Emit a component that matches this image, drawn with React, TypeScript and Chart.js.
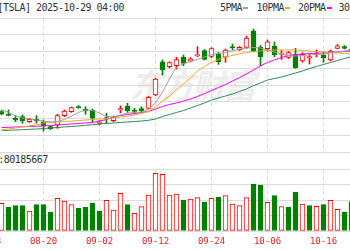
import React, { useEffect, useRef } from 'react';
import { Chart, registerables } from 'chart.js';

Chart.register(...registerables);

// ---- data ----
const dates = ['08-12','08-13','08-14','08-15','08-18','08-19','08-20','08-21','08-22','08-25','08-26','08-27','08-28','08-29','09-02','09-03','09-04','09-05','09-08','09-09','09-10','09-11','09-12','09-15','09-16','09-17','09-18','09-19','09-22','09-23','09-24','09-25','09-26','09-29','09-30','10-01','10-02','10-03','10-06','10-07','10-08','10-09','10-10','10-13','10-14','10-15','10-16','10-17','10-20','10-21','10-22'];

const openP = [343.0,338.6,332.6,335.1,327.2,331.0,327.2,319.4,322.0,336.7,343.0,351.2,346.8,345.7,324.4,333.8,328.8,345.7,352.0,345.7,347.7,348.3,369.3,421.7,413.9,415.4,429.1,422.5,431.2,439.4,429.9,434.3,428.7,445.4,440.6,444.1,470.1,444.9,442.2,446.1,433.1,428.3,433.4,422.8,427.1,433.1,432.3,424.4,442.8,445.7,441.7];
const highP = [344.9,345.7,336.7,337.8,332.3,336.7,329.9,320.5,338.9,345.7,350.4,352.7,350.9,347.2,329.1,340.5,336.2,352.0,356.2,348.3,350.9,366.9,395.6,424.4,421.7,428.7,432.3,428.3,445.4,440.9,443.8,436.5,441.7,449.6,445.7,462.2,473.0,447.2,455.9,452.8,439.4,437.8,442.8,435.9,433.4,440.2,437.5,440.2,448.8,447.2,444.9];
const lowP = [337.8,336.2,327.2,324.7,326.0,324.7,312.6,314.9,316.8,335.1,342.0,348.3,338.9,327.2,322.0,324.7,327.2,341.4,341.7,339.4,341.4,347.2,368.2,400.8,411.8,410.2,415.4,421.3,429.6,424.4,428.0,417.6,420.8,440.2,439.4,442.8,437.0,415.4,438.6,429.6,425.2,426.8,411.3,420.8,418.1,429.1,420.8,422.8,442.0,441.7,435.4];
const closeP = [339.4,337.3,329.9,328.3,331.0,328.8,320.9,316.2,336.7,344.1,349.3,348.8,344.1,332.6,326.8,332.0,334.2,348.0,344.6,343.6,344.6,365.7,394.5,408.7,420.5,425.2,418.9,426.3,433.1,425.5,442.5,421.7,440.2,443.3,444.4,459.1,438.5,429.1,453.2,432.7,434.6,436.2,412.3,433.4,429.6,434.6,428.0,438.6,446.9,442.8,437.8];

const ma5 = [345.7,342.5,336.2,333.1,331.5,329.9,328.3,326.8,327.5,330.7,336.2,341.7,345.7,344.9,340.9,335.4,334.6,337.8,340.9,341.7,342.5,347.2,356.7,374.0,394.5,413.4,418.9,422.0,425.2,429.1,433.1,434.6,436.2,438.6,441.7,443.3,444.1,443.3,440.2,437.0,433.9,431.5,430.7,431.5,432.3,433.1,433.9,435.4,437.0,438.6,440.2];
const ma10 = [314.2,315.7,317.3,318.9,320.5,322.0,325.2,326.0,326.8,327.5,328.3,329.1,329.9,330.7,331.5,332.3,333.1,334.6,336.2,337.8,340.1,343.3,350.4,359.8,367.7,377.2,386.6,396.1,407.1,414.2,420.5,425.2,429.1,431.5,433.9,436.2,437.8,438.6,439.4,440.2,440.2,440.2,440.2,439.4,438.6,437.8,437.0,436.2,435.4,434.6,433.9];
const ma20 = [318.1,318.4,318.9,319.2,319.7,320.1,320.5,321.2,322.0,322.8,323.6,324.4,325.2,326.0,328.3,330.7,334.6,337.0,338.6,340.1,341.7,343.3,347.2,351.2,354.3,356.7,359.8,363.0,366.9,371.6,376.4,381.1,385.8,391.3,396.8,402.4,408.7,415.0,420.5,424.4,428.3,431.5,433.1,433.9,434.6,435.0,435.4,436.2,437.0,437.8,438.6];
const ma30 = [313.4,313.7,314.2,314.6,315.3,315.7,316.5,317.3,318.1,318.9,319.7,320.5,321.6,322.5,323.6,324.4,325.2,326.0,326.8,327.5,328.3,329.4,331.5,335.4,338.6,341.7,344.9,348.8,352.7,356.7,361.4,364.6,367.7,370.9,374.8,378.7,384.2,388.2,392.9,395.3,397.6,400.8,403.9,407.1,411.0,414.2,417.3,420.5,423.6,426.8,429.9];

// volume in millions of shares
const volume = [80.3,68.7,73.5,73.5,58.1,76.4,76.4,55.2,94.8,87.1,76.4,65.8,68.7,81.3,58.1,89.0,61.0,109.3,76.4,51.3,70.6,104.5,167.4,164.5,104.5,107.4,90.0,92.9,96.8,84.2,94.8,97.7,102.6,78.4,73.5,96.8,136.4,133.5,83.2,102.6,70.6,68.7,113.2,78.4,73.5,71.6,76.4,89.0,62.9,55.2,85.1];
// 1 = up day (red hollow), 0 = down day (green)
const volumeUp = [1,0,0,0,1,0,0,0,1,1,1,0,0,0,0,1,1,1,0,1,1,1,1,1,1,1,0,1,1,0,1,0,1,1,1,1,0,0,1,0,1,0,0,1,0,1,0,1,1,0,0];

const axisTickIndex = [-2, 6, 14, 22, 30, 38, 46];
const axisTickLabels = ['08-08', '08-20', '09-02', '09-12', '09-24', '10-06', '10-16'];

const headerText = '[TSLA] 2025-10-29 04:00';
const volumeText = 'VOL:80185667';
const legendLabels = ['5PMA', '10PMA', '20PMA', '30PMA'];

// ---- styles ----
const RED = '#ff0000';
const GREEN = '#008000';
const MA_COLORS = ['#a0a0a0', '#f5a623', '#ff00ff', '#2e8b57'];
const GRID = '#dcdcdc';
const MONO = "'DejaVu Sans Mono', monospace";
const X_MIN = -1.5 / 7;
const X_MAX = X_MIN + 50;
const Y_MIN = 279.5;
const Y_MAX = 490.55;
const VOL_MAX = 180;
const legendLeft = [220, 256.5, 298, 338.5];

function xScale(showLabels: boolean): any {
  return {
    type: 'linear',
    min: X_MIN,
    max: X_MAX,
    offset: false,
    grid: { color: GRID, drawTicks: false, offset: false },
    border: { display: false, dash: [4, 3] },
    afterBuildTicks: (s: any) => {
      s.ticks = axisTickIndex.map((v) => ({ value: v }));
    },
    ticks: showLabels
      ? {
          display: true,
          autoSkip: false,
          maxRotation: 0,
          minRotation: 0,
          color: '#f02020',
          padding: 5,
          font: { family: MONO, size: 9 },
          callback: (v: any) => {
            const k = axisTickIndex.indexOf(Number(v));
            return k >= 0 ? axisTickLabels[k] : '';
          },
        }
      : { display: false },
    afterFit: (s: any) => {
      s.height = showLabels ? 19 : 0;
      s.paddingLeft = 0;
      s.paddingRight = 0;
    },
  };
}

function yScale(min: number, max: number, n: number): any {
  return {
    type: 'linear',
    min,
    max,
    grid: { color: GRID, drawTicks: false },
    border: { display: false },
    ticks: { display: false },
    afterBuildTicks: (s: any) => {
      const t = [];
      for (let k = 0; k <= n; k++) t.push({ value: min + ((max - min) * k) / n });
      s.ticks = t;
    },
    afterFit: (s: any) => {
      s.width = 0;
    },
  };
}

export default function App() {
  const mainRef = useRef<HTMLCanvasElement>(null);
  const volRef = useRef<HTMLCanvasElement>(null);

  useEffect(() => {
    const up = closeP.map((c, i) => c >= openP[i]);
    const candleColor = up.map((u) => (u ? RED : GREEN));
    const bodyFill = up.map((u) => (u ? '#ffffff' : GREEN));
    const maSeries = [ma5, ma10, ma20, ma30];

    const main = new Chart(mainRef.current!, {
      type: 'bar',
      data: {
        datasets: [
          ...maSeries.map((s, k) => ({
            type: 'line' as const,
            label: legendLabels[k],
            data: s.map((v, i) => ({ x: i, y: v })),
            borderColor: MA_COLORS[k],
            borderWidth: 1,
            pointRadius: 0,
            fill: false,
            tension: 0,
            order: 0,
          })),
          {
            type: 'bar' as const,
            label: 'body',
            data: dates.map((_, i) => ({ x: i, y: [openP[i], closeP[i]] })),
            backgroundColor: bodyFill,
            borderColor: candleColor,
            borderWidth: 1,
            borderSkipped: false,
            barThickness: 5,
            minBarLength: 1,
            grouped: false,
            order: 1,
          },
          {
            type: 'bar' as const,
            label: 'wick',
            data: dates.map((_, i) => ({ x: i, y: [lowP[i], highP[i]] })),
            backgroundColor: candleColor,
            borderWidth: 0,
            barThickness: 1,
            grouped: false,
            order: 2,
          },
        ] as any,
      },
      options: {
        animation: false,
        responsive: false,
        devicePixelRatio: 1,
        layout: { padding: { top: 1, bottom: 1, left: 0, right: 0 } },
        plugins: { legend: { display: false }, tooltip: { enabled: false } },
        scales: { x: xScale(false), y: yScale(Y_MIN, Y_MAX, 8) },
      } as any,
    });

    const vol = new Chart(volRef.current!, {
      type: 'bar',
      data: {
        datasets: [
          {
            label: 'VOL',
            data: volume.map((v, i) => ({ x: i, y: v })),
            backgroundColor: volumeUp.map((u) => (u ? '#ffffff' : GREEN)),
            borderColor: volumeUp.map((u) => (u ? RED : GREEN)),
            borderWidth: 1,
            borderSkipped: false,
            barThickness: 5,
            grouped: false,
          },
        ] as any,
      },
      options: {
        animation: false,
        responsive: false,
        devicePixelRatio: 1,
        layout: { padding: { top: 1, bottom: 0, left: 0, right: 0 } },
        plugins: { legend: { display: false }, tooltip: { enabled: false } },
        scales: { x: xScale(true), y: yScale(0, VOL_MAX, 4) },
      } as any,
    });

    return () => {
      main.destroy();
      vol.destroy();
    };
  }, []);

  const textStyle: React.CSSProperties = {
    position: 'absolute',
    fontFamily: MONO,
    fontSize: 10,
    letterSpacing: '-0.52px',
    color: '#333',
    whiteSpace: 'nowrap',
    lineHeight: '16px',
  };

  return (
    <div
      style={{
        position: 'fixed',
        left: 0,
        top: 0,
        width: 350,
        height: 250,
        overflow: 'hidden',
        background: '#fff',
      }}
    >
      <div
        style={{
          position: 'absolute',
          left: 130,
          top: 62,
          fontFamily: "'Noto Sans CJK SC', sans-serif",
          fontSize: 33,
          fontWeight: 700,
          fontStyle: 'italic',
          letterSpacing: '-2px',
          color: '#ededed',
          lineHeight: '44px',
          whiteSpace: 'nowrap',
        }}
      >
        东方财富
      </div>
      <div style={{ ...textStyle, left: -2.5, top: 0 }}>{headerText}</div>
      {legendLabels.map((l, k) => (
        <React.Fragment key={l}>
          <div style={{ ...textStyle, left: legendLeft[k], top: 0 }}>{l}</div>
          <div
            style={{
              position: 'absolute',
              left: legendLeft[k] + l.length * 5.48 + 1.5,
              top: 7,
              width: 5,
              height: 2,
              background: MA_COLORS[k],
            }}
          />
        </React.Fragment>
      ))}
      <div style={{ ...textStyle, left: -18.25, top: 152 }}>{volumeText}</div>
      <canvas
        ref={mainRef}
        width={350}
        height={136}
        style={{ position: 'absolute', left: 0, top: 17, width: 350, height: 136 }}
      />
      <canvas
        ref={volRef}
        width={350}
        height={82}
        style={{ position: 'absolute', left: 0, top: 168, width: 350, height: 82 }}
      />
    </div>
  );
}
